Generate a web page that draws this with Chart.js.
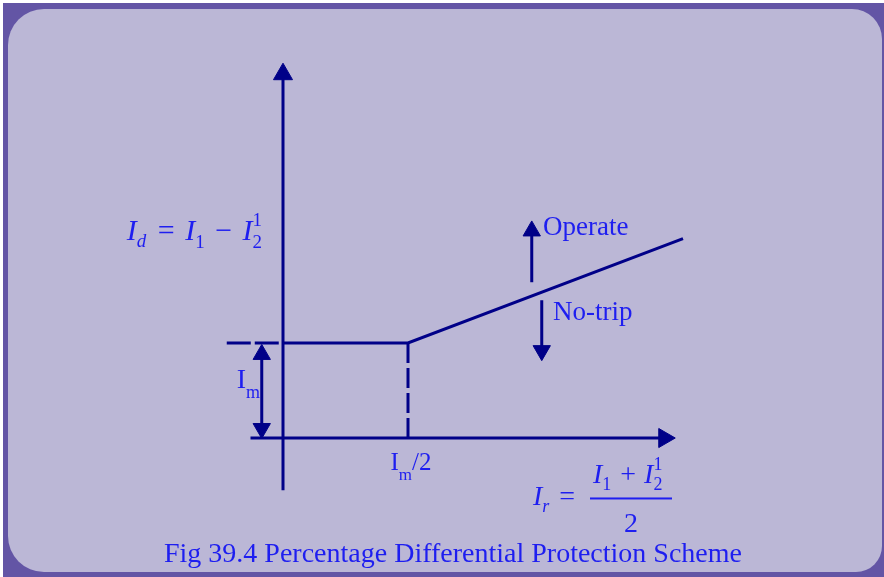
<!DOCTYPE html>
<html>
<head>
<meta charset="utf-8">
<script src="https://cdn.jsdelivr.net/npm/chart.js@4.4.1/dist/chart.umd.min.js"></script>
<style>
  html, body { margin: 0; padding: 0; background: #fff; }
  #frame { position: absolute; left: 3px; top: 3px; width: 881px; height: 574px; background: #6355a5; }
  #panel { position: absolute; left: 8px; top: 9px; width: 874px; height: 563px; background: #bbb7d6;
           border-radius: 36px 30px 26px 36px; }
  #wrap { position: absolute; left: 0; top: 0; width: 884px; height: 577px; }
</style>
</head>
<body>
<div id="frame"></div>
<div id="panel"></div>
<div id="wrap"><canvas id="chart"></canvas></div>
<script>
// units: origin at 0,0 ; Im/2 -> x = 1 ; Im -> y = 1
const yAxisX = [0, 0];
const yAxisY = [-0.55, 3.83];
const xAxisX = [-0.26, 3.05];
const xAxisY = [0, 0];

// restraint characteristic
const charX = [0, 1, 3.2];
const charY = [1, 1, 2.1];
const levelDashX = [-0.45, 0];
const levelDashY = [1, 1];
const kneeDashX = [1, 1];
const kneeDashY = [1, 0];

// small arrows
const imArrowX = [-0.17, -0.17];
const imArrowY = [0.88, 0.1];
const operateX = [1.99, 1.99];
const operateY = [1.64, 2.18];
const noTripX = [2.07, 2.07];
const noTripY = [1.45, 0.92];

// text anchors
const labelNames = ['diff', 'operate', 'notrip', 'im', 'imHalf', 'restraint', 'caption'];
const labelX = [-1.25, 2.08, 2.16, -0.37, 0.86, 2.0, 1.36];
const labelY = [2.08, 2.14, 1.24, 0.53, -0.34, -0.71, -1.31];

const NAVY = '#000088';
const BLUE = '#1e1ef0';
const FONT = '"Liberation Serif", "Times New Roman", serif';

function seg(xs, ys, radius, rotation, dash) {
    return {
        data: xs.map((x, i) => ({ x: x, y: ys[i] })),
        showLine: true,
        borderColor: NAVY,
        backgroundColor: NAVY,
        borderWidth: 3,
        borderDash: dash || [],
        pointStyle: 'triangle',
        pointRadius: radius,
        pointRotation: rotation,
        pointBorderColor: NAVY,
        pointBorderWidth: 1
    };
}

// draws a row of text pieces (sub/superscripts via dy)
function runs(ctx, x0, y0, parts) {
    let x = x0;
    parts.forEach(p => {
        ctx.font = (p.it ? 'italic ' : '') + p.s + 'px ' + FONT;
        ctx.fillText(p.t, x, y0 + (p.dy || 0));
        if (!p.stay) x += ctx.measureText(p.t).width + (p.gap || 0);
    });
    return x;
}

const textPlugin = {
    id: 'diagramText',
    afterDatasetsDraw(chart) {
        const { ctx, scales } = chart;
        const P = {};
        labelNames.forEach((n, i) => {
            P[n] = [scales.x.getPixelForValue(labelX[i]), scales.y.getPixelForValue(labelY[i])];
        });
        ctx.save();
        ctx.fillStyle = BLUE;
        ctx.textBaseline = 'alphabetic';
        ctx.textAlign = 'left';

        // Id = I1 - I2'
        runs(ctx, P.diff[0], P.diff[1], [
            { t: 'I', it: true, s: 30 }, { t: 'd', it: true, s: 19, dy: 7, gap: 4 },
            { t: ' = ', s: 30, gap: 3 },
            { t: 'I', it: true, s: 30 }, { t: '1', s: 19, dy: 8, gap: 3 },
            { t: ' \u2212 ', s: 30, gap: 3 },
            { t: 'I', it: true, s: 30 }, { t: '1', s: 19, dy: -14, stay: true }, { t: '2', s: 19, dy: 8 }
        ]);

        ctx.font = '27px ' + FONT;
        ctx.fillText('Operate', P.operate[0], P.operate[1]);
        ctx.fillText('No-trip', P.notrip[0], P.notrip[1]);

        runs(ctx, P.im[0], P.im[1], [
            { t: 'I', s: 28 }, { t: 'm', s: 18, dy: 10 }
        ]);
        runs(ctx, P.imHalf[0], P.imHalf[1], [
            { t: 'I', s: 25 }, { t: 'm', s: 17, dy: 10 }, { t: '/2', s: 25 }
        ]);

        // Ir = (I1 + I2') / 2
        const rx = P.restraint[0], ry = P.restraint[1];
        runs(ctx, rx, ry, [
            { t: 'I', it: true, s: 28 }, { t: 'r', it: true, s: 18, dy: 7, gap: 3 },
            { t: ' = ', s: 28 }
        ]);
        ctx.fillRect(rx + 57, ry - 8, 82, 2);
        runs(ctx, rx + 60, ry - 22, [
            { t: 'I', it: true, s: 28 }, { t: '1', s: 18, dy: 7, gap: 2 },
            { t: ' + ', s: 28, gap: 1 },
            { t: 'I', it: true, s: 28 }, { t: '1', s: 18, dy: -13, stay: true }, { t: '2', s: 18, dy: 7 }
        ]);
        ctx.textAlign = 'center';
        ctx.font = '28px ' + FONT;
        ctx.fillText('2', rx + 98, ry + 27);

        ctx.font = '28px ' + FONT;
        ctx.fillText('Fig 39.4 Percentage Differential Protection Scheme', P.caption[0], P.caption[1]);
        ctx.restore();
    }
};

new Chart(document.getElementById('chart'), {
    type: 'scatter',
    data: {
        datasets: [
            seg(yAxisX, yAxisY, [0, 11], [0, 0]),
            seg(xAxisX, xAxisY, [0, 11], [0, 90]),
            seg(charX, charY, 0, 0),
            seg(levelDashX, levelDashY, 0, 0, [24, 4]),
            seg(kneeDashX, kneeDashY, 0, 0, [20, 5]),
            seg(imArrowX, imArrowY, [10, 10], [0, 180]),
            seg(operateX, operateY, [0, 10], [0, 0]),
            seg(noTripX, noTripY, [0, 10], [0, 180])
        ]
    },
    options: {
        responsive: true,
        maintainAspectRatio: false,
        animation: false,
        events: [],
        layout: { padding: 0, autoPadding: false },
        plugins: {
            legend: { display: false },
            tooltip: { enabled: false }
        },
        scales: {
            x: { type: 'linear', display: false, min: -2.264, max: 4.808 },
            y: { type: 'linear', display: false, min: -1.463, max: 4.611 }
        }
    },
    plugins: [textPlugin]
});
</script>
</body>
</html>
